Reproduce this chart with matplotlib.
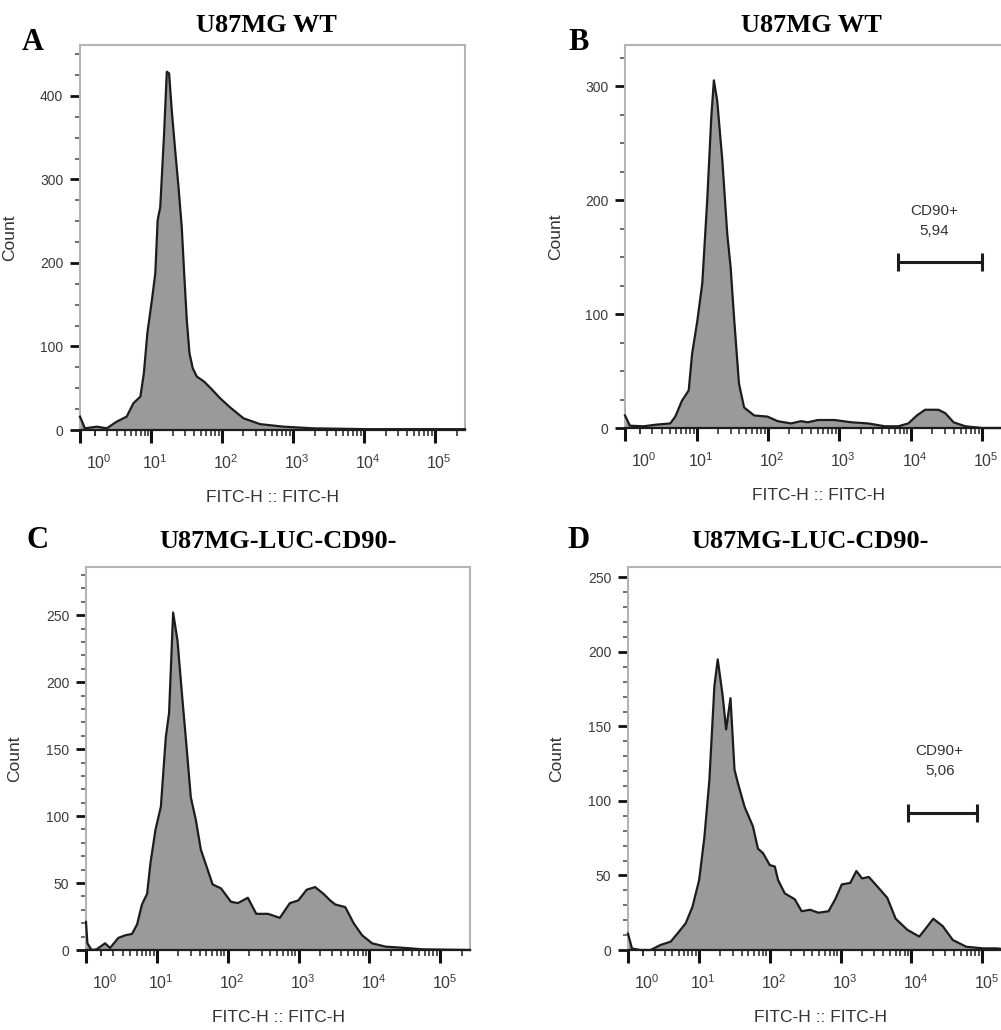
import numpy as np
import matplotlib
matplotlib.use("Agg")
import matplotlib.pyplot as plt
from matplotlib.transforms import ScaledTranslation

plt.rcParams["font.family"] = ["Liberation Sans", "DejaVu Sans"]
plt.rcParams["mathtext.fontset"] = "custom"
plt.rcParams["mathtext.rm"] = "Liberation Sans"
plt.rcParams["mathtext.it"] = "Liberation Sans"

# FITC-H intensity (biexponential display) and event counts per panel
fitc_a = [0, 0.32, 1.14, 1.96, 2.98, 4.32, 5.46, 6.94, 7.8, 8.76, 10.2, 11.4, 12.3, 13.4,
          15.2, 16.6, 17.9, 19.5, 21.8, 24.3, 27.0, 29.2, 31.8, 34.7, 38.6, 44.0, 55.7,
          69.2, 93.8, 130, 200, 343, 731, 1930, 11000, 262000]
count_a = [16, 2, 4, 2, 10, 16, 32, 40, 68, 116, 156, 188, 251, 267, 355, 429, 427, 383,
           335, 291, 243, 188, 132, 92, 74, 64, 58, 50, 38, 27, 14, 7, 4, 2, 1, 1]

fitc_b = [0, 0.32, 1.26, 2.43, 4.07, 4.86, 6.12, 7.67, 8.58, 10.2, 12.0, 14.1, 16.1, 17.5,
          19.5, 23.0, 27.0, 30.1, 33.6, 39.4, 46.5, 64.3, 98.9, 137, 211, 292, 362, 501,
          859, 1480, 2540, 4350, 6700, 9270, 12200, 15900, 24500, 30500, 39900, 58200,
          100000, 262000]
count_b = [11, 2, 1.5, 3, 4, 10, 24, 33, 65, 94, 127, 200, 273, 305, 287, 235, 170, 141,
           97, 39, 18, 11, 10, 6, 4, 6, 5, 7, 7, 5, 4, 1.5, 1.5, 4, 11, 16, 16, 13, 5,
           1.5, 0, 0]

fitc_c = [0, 0.09, 0.37, 0.70, 1.32, 1.73, 2.5, 3.31, 4.23, 5.06, 6.0, 7.15, 8.0, 9.47,
          11.3, 13.3, 14.8, 16.9, 19.5, 22.9, 25.6, 30.1, 35.5, 41.7, 52.0, 61.2, 80.4,
          111, 139, 192, 253, 371, 543, 753, 989, 1300, 1710, 2240, 2790, 3290, 4560,
          5980, 7870, 10900, 16900, 28800, 56200, 262000]
count_c = [21, 5, 0, 0.5, 5, 1.5, 9, 11, 12, 19, 34, 42, 65, 90, 107, 159, 177, 252, 231,
           187, 158, 114, 97, 75, 60, 49, 46, 36, 35, 39, 27, 27, 24, 35, 37, 45, 47, 42,
           37, 34, 32, 20, 11, 5, 2.5, 1.7, 0.5, 0]

fitc_d = [0, 0.26, 0.83, 1.60, 2.54, 3.75, 4.78, 6.38, 8.0, 10.0, 11.9, 14.0, 16.5, 18.4,
          21.7, 24.2, 27.9, 31.8, 35.5, 44.2, 57.9, 68.2, 80.4, 100, 118, 131, 163, 226,
          282, 371, 486, 675, 839, 1040, 1370, 1670, 2010, 2500, 3110, 4560, 5980, 8770,
          12900, 16000, 20300, 27600, 38300, 59300, 102000, 158000, 262000]
count_d = [11, 1, 0, 0, 3.4, 5.6, 11, 18, 29, 47, 76, 114, 177, 195, 170, 148, 169, 121,
           112, 96, 83, 68, 65, 57, 56, 47, 38, 34, 26, 27, 25, 26, 34, 44, 45, 53, 48, 49,
           44, 35, 21, 13.5, 9, 14.6, 21, 16, 6.7, 2.2, 1.1, 1.1, 0]

letters = ["A", "B", "C", "D"]
titles = ["U87MG WT", "U87MG WT", "U87MG-LUC-CD90-", "U87MG-LUC-CD90-"]
y_max = [461, 336, 286, 257]
y_major = [100, 100, 50, 50]
y_minor = [25, 25, 10, 10]

# CD90+ gates: low, high, count level, label position (FITC, count), percentage
gate_b = (6700, 100000, 146, 21000, 182, "5,94")
gate_d = (8900, 85000, 92, 25000, 127, "5,06")

x_max = 262144
decades = [1, 10, 100, 1e3, 1e4, 1e5]
decade_labels = ["$10^{%d}$" % i for i in range(6)]
minor_x = [k for k in range(2, 10)] + [k * 10 ** d for d in range(1, 5) for k in range(2, 10)] + [2e5]

W, H = 1001, 1030
# axes boxes in pixels: left, right, top, bottom
boxes = [(80, 465, 45, 430), (625, 1012, 45, 428), (86, 470, 567, 950), (628, 1012, 567, 950)]
ylabel_x = [17, 563, 22, 564]
letter_pos = [(33, 42), (579, 42), (37, 541), (578, 541)]
title_pos = [(266, 26), (811, 26), (278, 542), (810, 542)]


def biex_fwd(x):
    return np.arcsinh(np.asarray(x, dtype=float) / 2) / np.log(10)


def biex_inv(y):
    return 2 * np.sinh(np.asarray(y, dtype=float) * np.log(10))


fig = plt.figure(figsize=(W / 100, H / 100), dpi=100)

data = [(fitc_a, count_a, None), (fitc_b, count_b, gate_b),
        (fitc_c, count_c, None), (fitc_d, count_d, gate_d)]

for i, (fitc, count, gate) in enumerate(data):
    l, r, t, b = boxes[i]
    ax = fig.add_axes([l / W, 1 - b / H, (r - l) / W, (b - t) / H])
    ax.set_xscale("function", functions=(biex_fwd, biex_inv))
    ax.set_xlim(0, x_max)
    ax.set_ylim(0, y_max[i])

    ax.fill_between(fitc, count, 0, color="#9a9a9a", lw=0, zorder=2)
    ax.plot(fitc, count, color="#1c1c1c", lw=1.6, zorder=3, clip_on=False)

    for side in ["top", "right", "left"]:
        ax.spines[side].set_color("#b4b4b4")
        ax.spines[side].set_linewidth(1.5)
    ax.spines["bottom"].set_color("#1c1c1c")
    ax.spines["bottom"].set_linewidth(1.6)

    ax.set_yticks(np.arange(0, y_max[i] + 1, y_major[i]))
    ax.set_yticks(np.arange(0, y_max[i] + 1, y_minor[i]), minor=True)
    ax.tick_params(axis="y", which="major", length=7, width=2, color="#111111",
                   pad=5, labelsize=10, labelcolor="#3a3a3a")
    ax.tick_params(axis="y", which="minor", length=3.5, width=1.2, color="#555555")

    ax.set_xticks([0] + decades)
    ax.set_xticklabels([""] + decade_labels)
    ax.set_xticks(minor_x, minor=True)
    ax.xaxis.set_minor_formatter(plt.NullFormatter())
    ax.tick_params(axis="x", which="major", length=9, width=2.2, color="#111111",
                   pad=8, labelsize=11.5, labelcolor="#3a3a3a")
    ax.tick_params(axis="x", which="minor", length=4, width=1.2, color="#333333")
    # 10^0 sits inside the linear region, so it only gets a short tick
    tick_one = ax.xaxis.get_major_ticks()[1]
    tick_one.tick1line.set_markersize(4)
    tick_one.tick1line.set_markeredgewidth(1.2)
    shift = ScaledTranslation(4 / 100, 0, fig.dpi_scale_trans)
    for lab in ax.get_xticklabels():
        lab.set_transform(lab.get_transform() + shift)

    ax.set_xlabel("FITC-H :: FITC-H", fontsize=12.5, color="#333333")
    ax.xaxis.set_label_coords(0.5, -60 / (b - t))
    ax.set_ylabel("Count", fontsize=12.5, color="#333333")
    ax.yaxis.set_label_coords((ylabel_x[i] - l) / (r - l), 0.5)

    if gate is not None:
        g0, g1, gy, tx, ty, pct = gate
        ax.plot([g0, g1], [gy, gy], color="#1c1c1c", lw=2.2, marker="|",
                ms=13, mew=2.2, zorder=4)
        ax.text(tx, ty, "CD90+\n" + pct, ha="center", va="center",
                fontsize=11, color="#333333", linespacing=1.55)

    fig.text(letter_pos[i][0] / W, 1 - letter_pos[i][1] / H, letters[i],
             family="Liberation Serif", weight="bold", fontsize=22,
             ha="center", va="center")
    fig.text(title_pos[i][0] / W, 1 - title_pos[i][1] / H, titles[i],
             family="Liberation Serif", weight="bold", fontsize=19,
             ha="center", va="center")

fig.savefig("out.png", dpi=100)
